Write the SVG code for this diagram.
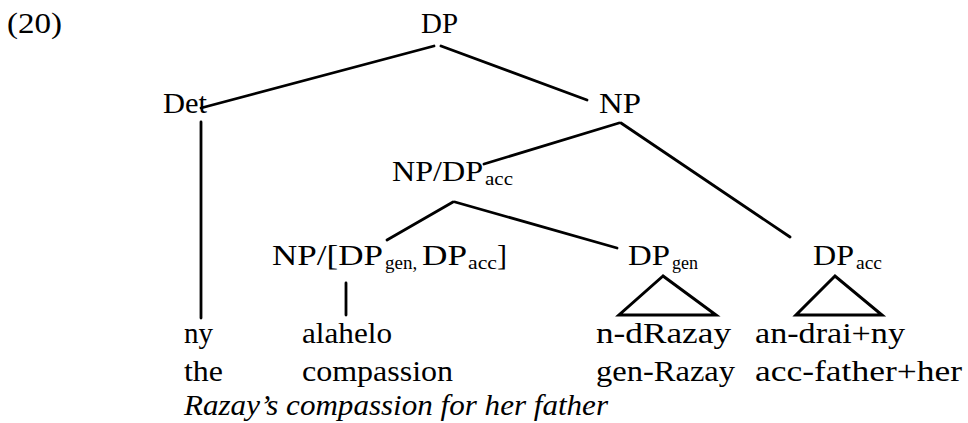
<svg xmlns="http://www.w3.org/2000/svg" width="968" height="423" viewBox="0 0 968 423">
<style>
  text { font-family: "Liberation Serif", "Times New Roman", serif; font-size: 30px; fill: #000; }
  .sub { font-size: 19px; }
  .it { font-style: italic; }
  .edge { stroke: #000; stroke-width: 2.8; fill: none; stroke-linecap: round; }
  .tri { stroke: #000; stroke-width: 3; fill: none; stroke-linejoin: miter; }
</style>
<rect width="968" height="423" fill="#fff"/>
<text x="7" y="33" textLength="55" lengthAdjust="spacingAndGlyphs">(20)</text>

<g id="connectors">
  <line class="edge" x1="434" y1="46" x2="201" y2="108"/>
  <line class="edge" x1="441" y1="46" x2="587" y2="100"/>
  <line class="edge" x1="201" y1="122" x2="201" y2="318"/>
  <line class="edge" x1="619" y1="123" x2="484" y2="164"/>
  <line class="edge" x1="621" y1="123" x2="790" y2="237"/>
  <line class="edge" x1="453" y1="202" x2="387" y2="240"/>
  <line class="edge" x1="455" y1="202" x2="617" y2="248"/>
  <line class="edge" x1="346" y1="283" x2="346" y2="315"/>
</g>

<g id="n-dp">
  <text x="421" y="33" textLength="37" lengthAdjust="spacingAndGlyphs">DP</text>
</g>
<g id="n-det">
  <text x="163" y="113" textLength="44" lengthAdjust="spacingAndGlyphs">Det</text>
</g>
<g id="n-np">
  <text x="599" y="113" textLength="42" lengthAdjust="spacingAndGlyphs">NP</text>
</g>
<g id="n-np-dpacc">
  <text x="392" y="181"><tspan textLength="91" lengthAdjust="spacingAndGlyphs">NP/DP</tspan><tspan class="sub" x="485" y="185" textLength="28" lengthAdjust="spacingAndGlyphs">acc</tspan></text>
</g>
<g id="n-np-dpgen-dpacc">
  <text x="272" y="265"><tspan textLength="111" lengthAdjust="spacingAndGlyphs">NP/[DP</tspan><tspan class="sub" x="385" y="269">gen, </tspan><tspan x="422" y="265" textLength="45" lengthAdjust="spacingAndGlyphs">DP</tspan><tspan class="sub" x="468" y="269" textLength="29" lengthAdjust="spacingAndGlyphs">acc</tspan><tspan x="497" y="265">]</tspan></text>
</g>
<g id="n-dpgen">
  <text x="628" y="265"><tspan textLength="42" lengthAdjust="spacingAndGlyphs">DP</tspan><tspan class="sub" x="672" y="269" textLength="26" lengthAdjust="spacingAndGlyphs">gen</tspan></text>
  <polygon class="tri" points="663,276 619,315 716,315"/>
</g>
<g id="n-dpacc">
  <text x="813" y="265"><tspan textLength="41" lengthAdjust="spacingAndGlyphs">DP</tspan><tspan class="sub" x="856" y="269" textLength="26" lengthAdjust="spacingAndGlyphs">acc</tspan></text>
  <polygon class="tri" points="835,276 796,315 882,315"/>
</g>

<g id="w-ny">
  <text x="184" y="343" textLength="29" lengthAdjust="spacingAndGlyphs">ny</text>
  <text x="184" y="381" textLength="39" lengthAdjust="spacingAndGlyphs">the</text>
</g>
<g id="w-alahelo">
  <text x="302" y="343" textLength="90" lengthAdjust="spacingAndGlyphs">alahelo</text>
  <text x="302" y="381" textLength="151" lengthAdjust="spacingAndGlyphs">compassion</text>
</g>
<g id="w-razay">
  <text x="596" y="343" textLength="135" lengthAdjust="spacingAndGlyphs">n-dRazay</text>
  <text x="596" y="381" textLength="139" lengthAdjust="spacingAndGlyphs">gen-Razay</text>
</g>
<g id="w-andrai">
  <text x="755" y="343" textLength="150" lengthAdjust="spacingAndGlyphs">an-drai+ny</text>
  <text x="755" y="381" textLength="207" lengthAdjust="spacingAndGlyphs">acc-father+her</text>
</g>
<text class="it" x="184" y="415" textLength="424" lengthAdjust="spacingAndGlyphs">Razay’s compassion for her father</text>
</svg>
